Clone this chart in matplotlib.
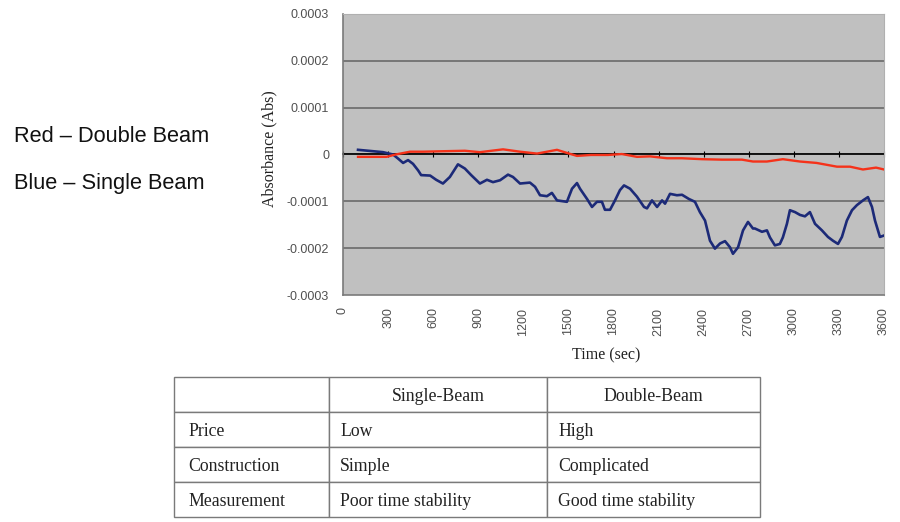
import matplotlib
matplotlib.use("Agg")
import matplotlib.pyplot as plt

# ---------------- data ----------------
blue_time = [100, 266, 333, 366, 400, 433, 466, 500, 520, 580, 620, 665, 711, 765, 811, 853,
             911, 958, 998, 1045, 1098, 1131, 1178, 1244, 1278, 1311, 1357, 1390, 1424, 1490,
             1524, 1557, 1577, 1624, 1657, 1690, 1723, 1743, 1777, 1810, 1843, 1870, 1910,
             1956, 2003, 2023, 2056, 2090, 2123, 2143, 2176, 2222, 2256, 2302, 2342, 2375,
             2409, 2442, 2475, 2509, 2542, 2575, 2595, 2629, 2662, 2695, 2728, 2741, 2788,
             2821, 2841, 2874, 2907, 2927, 2954, 2974, 3008, 3041, 3074, 3107, 3141, 3187,
             3227, 3260, 3294, 3320, 3353, 3387, 3420, 3460, 3493, 3520, 3540, 3573, 3600]
blue_abs = [1.0e-5, 5e-6, 0.0, -8.6e-6, -1.8e-5, -1.2e-5, -2.0e-5, -3.4e-5, -4.4e-5, -4.5e-5,
            -5.4e-5, -6.2e-5, -4.8e-5, -2.1e-5, -3.0e-5, -4.4e-5,
            -6.2e-5, -5.4e-5, -5.9e-5, -5.5e-5, -4.3e-5, -4.8e-5, -6.2e-5, -6.0e-5, -6.9e-5,
            -8.7e-5, -8.9e-5, -8.2e-5, -9.8e-5, -1.01e-4,
            -7.3e-5, -6.1e-5, -7.3e-5, -9.5e-5, -1.12e-4, -1.01e-4, -1.01e-4, -1.18e-4, -1.18e-4,
            -9.8e-5, -7.6e-5, -6.6e-5, -7.3e-5,
            -9.0e-5, -1.12e-4, -1.15e-4, -9.8e-5, -1.12e-4, -9.8e-5, -1.05e-4, -8.4e-5, -8.7e-5,
            -8.6e-5, -9.5e-5, -1.01e-4, -1.23e-4,
            -1.41e-4, -1.84e-4, -2.01e-4, -1.90e-4, -1.85e-4, -1.98e-4, -2.12e-4, -1.98e-4,
            -1.62e-4, -1.44e-4, -1.58e-4, -1.58e-4, -1.65e-4,
            -1.62e-4, -1.77e-4, -1.94e-4, -1.91e-4, -1.77e-4, -1.48e-4, -1.19e-4, -1.23e-4,
            -1.29e-4, -1.32e-4, -1.23e-4, -1.48e-4, -1.62e-4,
            -1.76e-4, -1.84e-4, -1.91e-4, -1.76e-4, -1.41e-4, -1.19e-4, -1.08e-4, -9.8e-5,
            -9.1e-5, -1.12e-4, -1.41e-4, -1.76e-4, -1.73e-4]

red_time = [100, 290, 350, 446, 532, 665, 811, 911, 1065, 1178, 1291, 1424, 1504, 1557, 1650,
            1763, 1856, 1956, 2043, 2156, 2256, 2389, 2522, 2655, 2728, 2821, 2927, 3041,
            3151, 3287, 3374, 3460, 3547, 3600]
red_abs = [-5e-6, -5e-6, 0.0, 6e-6, 6e-6, 7e-6, 8e-6, 5e-6, 1.1e-5, 6e-6, 2e-6, 1.0e-5, 2e-6,
           -3e-6, -1e-6, -1e-6, 1e-6, -5e-6, -4e-6, -8e-6, -8e-6, -1.0e-5, -1.1e-5, -1.1e-5,
           -1.5e-5, -1.5e-5, -1.0e-5, -1.5e-5, -1.8e-5, -2.6e-5, -2.6e-5, -3.2e-5, -2.8e-5,
           -3.2e-5]

x_ticks = [0, 300, 600, 900, 1200, 1500, 1800, 2100, 2400, 2700, 3000, 3300, 3600]
y_ticks = [-0.0003, -0.0002, -0.0001, 0, 0.0001, 0.0002, 0.0003]
y_tick_labels = ["-0.0003", "-0.0002", "-0.0001", "0", "0.0001", "0.0002", "0.0003"]

legend_lines = ["Red – Double Beam", "Blue – Single Beam"]

table_header = ["", "Single-Beam", "Double-Beam"]
table_rows = [["Price", "Low", "High"],
              ["Construction", "Simple", "Complicated"],
              ["Measurement", "Poor time stability", "Good time stability"]]

# ---------------- figure ----------------
W, H = 900, 522
fig = plt.figure(figsize=(W / 100, H / 100), dpi=100)
fig.patch.set_facecolor("white")

ax = fig.add_axes([343 / W, 1 - 295 / H, 541 / W, 281 / H])
ax.set_facecolor("#c0c0c0")
ax.set_xlim(0, 3600)
ax.set_ylim(-0.0003, 0.0003)

for yv in y_ticks[1:-1]:
    if yv != 0:
        ax.axhline(yv, color="#6a6a6a", lw=1.2, zorder=1)

ax.plot(blue_time, blue_abs, color="#1c2a78", lw=1.9, zorder=3)
ax.plot(red_time, red_abs, color="#f5321a", lw=1.7, zorder=4)

# category axis crossing at y=0
sec = ax.secondary_xaxis(0.5)
sec.set_xticks(x_ticks)
sec.set_xticklabels([])
sec.tick_params(axis="x", labeltop=False, labelbottom=False, direction="inout", length=4,
                color="black", width=0.8)
for s in sec.spines.values():
    s.set_color("black")
    s.set_linewidth(1.3)

ax.set_xticks(x_ticks)
ax.set_xticklabels([str(t) for t in x_ticks], rotation=90, fontsize=9, color="#505050",
                   family="Liberation Sans", va="top")
ax.set_yticks(y_ticks)
ax.set_yticklabels(y_tick_labels, fontsize=9, color="#505050", family="Liberation Sans")
ax.tick_params(axis="x", length=0, pad=9)
ax.tick_params(axis="y", length=0, pad=10)

for side in ("left", "bottom"):
    ax.spines[side].set_color("#7a7a7a")
    ax.spines[side].set_linewidth(1.2)
for side in ("top", "right"):
    ax.spines[side].set_color("#b0b0b0")
    ax.spines[side].set_linewidth(0.8)

ax.set_ylabel("Absorbance (Abs)", family="Liberation Serif", fontsize=11.5, color="#222222")
ax.yaxis.set_label_coords(-0.122, 0.52)
ax.set_xlabel("Time (sec)", family="Liberation Serif", fontsize=11.5, color="#222222")
ax.xaxis.set_label_coords(0.487, -0.187)

# left-hand legend text
fig.text(14 / W, 1 - 136 / H, legend_lines[0], fontsize=15.7, family="Liberation Sans",
         va="center", ha="left", color="#111111")
fig.text(14 / W, 1 - 183 / H, legend_lines[1], fontsize=15.7, family="Liberation Sans",
         va="center", ha="left", color="#111111")

# comparison table
tax = fig.add_axes([174 / W, 1 - 517 / H, 586 / W, 140 / H])
tax.axis("off")
col_w = [155, 218, 213]
tot = sum(col_w)
tbl = tax.table(cellText=table_rows, colLabels=table_header, cellLoc="left", colLoc="center",
                colWidths=[c / tot for c in col_w], bbox=[0, 0, 1, 1])
tbl.auto_set_font_size(False)
tbl.set_fontsize(12.8)
for (r, c), cell in tbl.get_celld().items():
    cell.set_edgecolor("#7a7a7a")
    cell.set_linewidth(1.0)
    cell.set_facecolor("white")
    txt = cell.get_text()
    txt.set_fontfamily("Liberation Serif")
    txt.set_color("#222222")
    txt.set_va("center_baseline")
    if c == 0:
        cell.PAD = 14 / col_w[0]
    else:
        cell.PAD = 11 / col_w[c]

fig.savefig("out.png", dpi=100, facecolor="white")
